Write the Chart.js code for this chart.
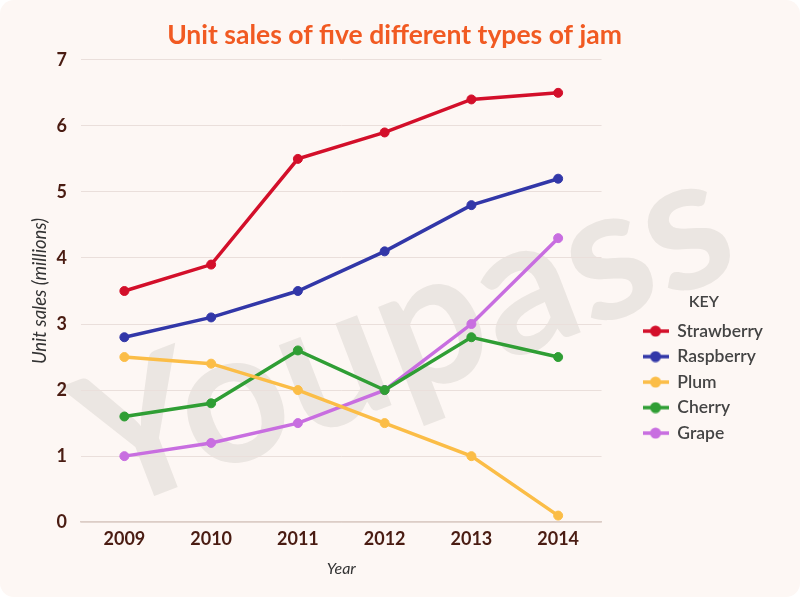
<!DOCTYPE html>
<html>
<head>
<meta charset="utf-8">
<script src="https://cdn.jsdelivr.net/npm/chart.js@4"></script>
<style>
    html, body { margin: 0; padding: 0; background: #ffffff; }
    #wrap {
        width: 800px; height: 597px;
        background: #fdf7f4;
        border-radius: 14px;
        overflow: hidden;
    }
</style>
</head>
<body>
<div id="wrap"><canvas id="jamChart" width="800" height="597"></canvas></div>
<script>
const years = ['2009', '2010', '2011', '2012', '2013', '2014'];
const strawberry = [3.5, 3.9, 5.5, 5.9, 6.4, 6.5];
const raspberry = [2.8, 3.1, 3.5, 4.1, 4.8, 5.2];
const plum = [2.5, 2.4, 2.0, 1.5, 1.0, 0.1];
const cherry = [1.6, 1.8, 2.6, 2.0, 2.8, 2.5];
const grape = [1.0, 1.2, 1.5, 2.0, 3.0, 4.3];

const seriesNames = ['Strawberry', 'Raspberry', 'Plum', 'Cherry', 'Grape'];
const seriesColors = ['#d30f2a', '#3237a8', '#fbbd47', '#2f9e34', '#c86ee0'];
const seriesData = [strawberry, raspberry, plum, cherry, grape];

const KEY_GAP = 33; // space between the plot and the key

// little line + dot icon for the legend
function makeLegendIcon(color) {
    const c = document.createElement('canvas');
    c.width = 26;
    c.height = 12;
    const g = c.getContext('2d');
    g.strokeStyle = color;
    g.lineWidth = 3.5;
    g.beginPath();
    g.moveTo(0, 6);
    g.lineTo(26, 6);
    g.stroke();
    g.fillStyle = color;
    g.beginPath();
    g.arc(13, 6, 5.5, 0, Math.PI * 2);
    g.fill();
    return c;
}
const legendIcons = seriesColors.map(makeLegendIcon);

// faint watermark behind everything
const watermark = {
    id: 'watermark',
    beforeDraw(chart) {
        const ctx = chart.ctx;
        ctx.save();
        ctx.translate(405, 335);
        ctx.rotate(-21 * Math.PI / 180);
        ctx.font = 'bold 170px Lato';
        const w = ctx.measureText('Youpass').width;
        const s = 680 / w;
        ctx.scale(s, s);
        ctx.fillStyle = 'rgba(185, 178, 172, 0.25)';
        ctx.textAlign = 'center';
        ctx.textBaseline = 'middle';
        ctx.fillText('Youpass', 0, 0);
        ctx.restore();
    }
};

// reserve extra room to the left of the legend, then push the legend over
const keyGap = {
    id: 'keyGap',
    afterInit(chart) {
        const legend = chart.legend;
        const fit = legend.fit;
        legend.fit = function () {
            fit.call(this);
            this.width += KEY_GAP;
        };
    },
    afterLayout(chart) {
        const legend = chart.legend;
        legend.left += KEY_GAP;
        legend.width -= KEY_GAP;
    }
};

const ctx = document.getElementById('jamChart').getContext('2d');
const jamChart = new Chart(ctx, {
    type: 'line',
    data: {
        labels: years,
        datasets: seriesNames.map((name, i) => ({
            label: name,
            data: seriesData[i],
            borderColor: seriesColors[i],
            backgroundColor: seriesColors[i],
            borderWidth: 3.5,
            pointRadius: 4.5,
            pointBorderWidth: 1,
            pointHoverRadius: 5,
            tension: 0
        }))
    },
    options: {
        responsive: false,
        animation: false,
        layout: { padding: { left: 16, right: 27, top: 10, bottom: 10 } },
        plugins: {
            title: {
                display: true,
                text: 'Unit sales of five different types of jam',
                color: '#f15a22',
                font: { family: 'Lato', size: 26.5, weight: 'bold' },
                padding: { top: 10, bottom: 8 }
            },
            legend: {
                position: 'right',
                align: 'center',
                title: {
                    display: true,
                    text: 'KEY',
                    color: '#444444',
                    font: { family: 'Lato', size: 16, weight: '600' },
                    padding: { top: 147, bottom: 1 }
                },
                labels: {
                    usePointStyle: true,
                    pointStyleWidth: 26,
                    boxHeight: 12,
                    padding: 8,
                    color: '#444444',
                    font: { family: 'Lato', size: 17.5, weight: '600' },
                    generateLabels(chart) {
                        const items = Chart.defaults.plugins.legend.labels.generateLabels(chart);
                        items.forEach((item, i) => { item.pointStyle = legendIcons[i]; });
                        return items;
                    }
                }
            },
            tooltip: { enabled: false }
        },
        scales: {
            x: {
                offset: true,
                grid: { display: false, drawTicks: false },
                border: { color: '#dccdc6', width: 1.5 },
                ticks: { color: '#4a1c12', font: { family: 'Lato', size: 18, weight: 'bold' }, padding: 6 },
                title: {
                    display: true,
                    text: 'Year',
                    color: '#333333',
                    font: { family: 'Lato', size: 16, style: 'italic' },
                    padding: { top: 3, bottom: 9 }
                }
            },
            y: {
                min: 0,
                max: 7,
                ticks: { stepSize: 1, color: '#4a1c12', font: { family: 'Lato', size: 18, weight: 'bold' }, padding: 14 },
                grid: { color: '#eadfdb', lineWidth: 1, drawTicks: false },
                border: { display: false },
                title: {
                    display: true,
                    text: 'Unit sales (millions)',
                    color: '#333333',
                    font: { family: 'Lato', size: 18.5, style: 'italic' },
                    padding: { top: 13, bottom: 0 }
                },
                afterFit(scale) { scale.width = 65; }
            }
        }
    },
    plugins: [watermark, keyGap]
});
</script>
</body>
</html>
